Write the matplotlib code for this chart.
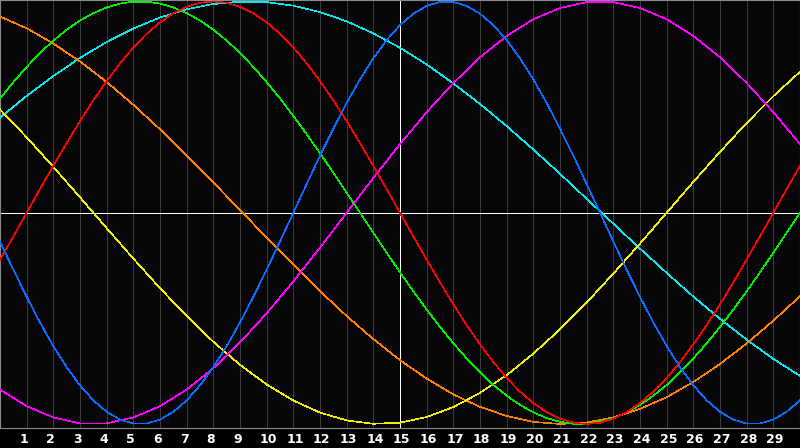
import matplotlib
matplotlib.use("Agg")
import matplotlib.pyplot as plt
import matplotlib.transforms as mtransforms

# days shown along the bottom (x = 0 .. 30)
days = list(range(31))
half_days = [i / 2 for i in range(61)]
tick_days = list(range(1, 30))

# cycle values (short cycles every half day, long ones daily)
physical = [-0.136, -0.270, -0.398, -0.520, -0.631, -0.731, -0.817, -0.888, -0.942, -0.979,
            -0.998, -0.998, -0.979, -0.942, -0.888, -0.817, -0.731, -0.631, -0.520, -0.398,
            -0.270, -0.136, 0.0, 0.136, 0.270, 0.398, 0.520, 0.631, 0.731, 0.817,
            0.888, 0.942, 0.979, 0.998, 0.998, 0.979, 0.942, 0.888, 0.817, 0.731,
            0.631, 0.520, 0.398, 0.270, 0.136, 0.0, -0.136, -0.270, -0.398, -0.520,
            -0.631, -0.731, -0.817, -0.888, -0.942, -0.979, -0.998, -0.998, -0.979, -0.942, -0.888]
emotional = [-0.222, -0.112, 0.0, 0.112, 0.222, 0.330, 0.434, 0.532, 0.623, 0.707,
             0.782, 0.847, 0.901, 0.944, 0.975, 0.994, 1.0, 0.994, 0.975, 0.944,
             0.901, 0.847, 0.782, 0.707, 0.623, 0.532, 0.434, 0.330, 0.222, 0.112,
             0.0, -0.112, -0.222, -0.330, -0.434, -0.532, -0.623, -0.707, -0.782, -0.847,
             -0.901, -0.944, -0.975, -0.994, -1.0, -0.994, -0.975, -0.944, -0.901, -0.847,
             -0.782, -0.707, -0.623, -0.532, -0.434, -0.330, -0.222, -0.112, 0.0, 0.112, 0.222]
intellectual = [0.541, 0.618, 0.690, 0.756, 0.815, 0.866, 0.910, 0.945, 0.972, 0.990,
                0.999, 0.999, 0.990, 0.972, 0.945, 0.910, 0.866, 0.815, 0.756, 0.690,
                0.618, 0.541, 0.458, 0.372, 0.282, 0.189, 0.095, 0.0, -0.095, -0.189,
                -0.282, -0.372, -0.458, -0.541, -0.618, -0.690, -0.756, -0.815, -0.866, -0.910,
                -0.945, -0.972, -0.990, -0.999, -0.999, -0.990, -0.972, -0.945, -0.910, -0.866,
                -0.815, -0.756, -0.690, -0.618, -0.541, -0.458, -0.372, -0.282, -0.189, -0.095, 0.0]
intuitive = [-0.837, -0.916, -0.969, -0.997, -0.997, -0.969, -0.916, -0.837, -0.736, -0.614,
             -0.476, -0.325, -0.165, 0.0, 0.165, 0.325, 0.476, 0.614, 0.736, 0.837,
             0.916, 0.969, 0.997, 0.997, 0.969, 0.916, 0.837, 0.736, 0.614, 0.476, 0.325]
aesthetic = [0.489, 0.357, 0.217, 0.073, -0.073, -0.217, -0.357, -0.489, -0.611, -0.720,
             -0.813, -0.889, -0.946, -0.983, -0.999, -0.994, -0.967, -0.920, -0.853, -0.769,
             -0.667, -0.552, -0.425, -0.288, -0.146, 0.0, 0.146, 0.288, 0.425, 0.552, 0.667]
awareness = [0.929, 0.873, 0.801, 0.716, 0.619, 0.511, 0.395, 0.271, 0.143, 0.013,
             -0.118, -0.246, -0.371, -0.489, -0.598, -0.698, -0.785, -0.860, -0.919, -0.962,
             -0.990, -1.000, -0.993, -0.969, -0.929, -0.873, -0.801, -0.716, -0.619, -0.511, -0.395]
spiritual = [0.450, 0.553, 0.647, 0.733, 0.808, 0.872, 0.924, 0.963, 0.988, 0.999,
             0.997, 0.980, 0.950, 0.906, 0.849, 0.781, 0.702, 0.612, 0.515, 0.410,
             0.299, 0.184, 0.066, -0.052, -0.170, -0.285, -0.397, -0.502, -0.601, -0.692, -0.772]

series = [
    (days, spiritual, "#00e8f0"),
    (days, awareness, "#ff7f00"),
    (days, aesthetic, "#f0f000"),
    (days, intuitive, "#ff00ff"),
    (half_days, intellectual, "#00ee00"),
    (half_days, emotional, "#ff0000"),
    (half_days, physical, "#0a6cff"),
]

fig = plt.figure(figsize=(8, 4.48), dpi=100, facecolor="black")
ax = fig.add_axes([0, 20 / 448, 1, 428 / 448])
ax.set_facecolor("#060609")

# day gridlines
for d in tick_days:
    if d == 15:
        continue
    ax.axvline(d, color="#3a3a3a", lw=0.72, antialiased=False, zorder=1)

for xs, vals, col in series:
    ax.plot(xs, vals, color=col, lw=0.45, antialiased=False, zorder=3)

# centre cross
ax.axvline(15, color="white", lw=0.72, antialiased=False, zorder=2)
ax.axhline(0, color="white", lw=0.72, antialiased=False, zorder=2)

ax.set_xlim(0, 30)
ax.set_ylim(-1.019, 1.007)
ax.set_xticks([])
ax.set_yticks([])
for side in ["top", "left", "bottom", "right"]:
    ax.spines[side].set_color("#8a8a8a")
    ax.spines[side].set_linewidth(0.8)

# day numbers under the plot
trans = mtransforms.blended_transform_factory(ax.transData, fig.transFigure)
offset = mtransforms.ScaledTranslation(-7 / 100, 0, fig.dpi_scale_trans)
for d in tick_days:
    ax.text(d, 9 / 448, str(d), transform=trans + offset, color="white",
            fontsize=9, fontweight="bold", family="DejaVu Sans",
            ha="left", va="center")

fig.savefig("out.png", dpi=100, facecolor="black")
